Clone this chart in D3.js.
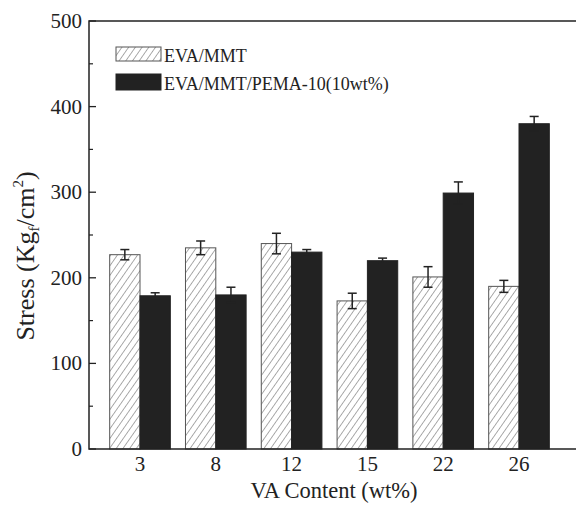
<!DOCTYPE html>
<html>

<head>
    <title>Stress vs VA content</title>
    <script src="https://cdn.jsdelivr.net/npm/d3@7"></script>
    <style>
        body { margin: 0; background: #fff; }
        text { font-family: 'Liberation Serif', 'Times New Roman', serif; fill: #222; }
    </style>
</head>

<body>
    <svg width="576" height="508" id="mainsvg"></svg>
    <script>
        // data
        const categories = ['3', '8', '12', '15', '22', '26'];
        const seriesNames = ['EVA/MMT', 'EVA/MMT/PEMA-10(10wt%)'];
        const evaMmt = [227, 235, 240, 173, 201, 190];
        const evaMmtErr = [6, 8, 12, 9, 12, 7];
        const evaPema = [179, 180, 230, 220, 299, 380];
        const evaPemaErr = [3.5, 9, 3, 3, 13, 8.5];
        const yTicks = [0, 100, 200, 300, 400, 500];
        const yMinor = [50, 150, 250, 350, 450];

        const svg = d3.select('svg');
        const plotLeft = 89, plotTop = 21, plotBottom = 449, plotRight = 600;
        const ink = '#222';

        const x = d3.scaleBand().domain(categories)
            .range([102.1, 556.9]).paddingInner(0.2).paddingOuter(0.1);
        const xs = d3.scaleBand().domain([0, 1]).range([0, x.bandwidth()]);
        const y = d3.scaleLinear().domain([0, 500]).range([plotBottom, plotTop]);

        const defs = svg.append('defs');
        const pat = defs.append('pattern').attr('id', 'hatch')
            .attr('patternUnits', 'userSpaceOnUse').attr('width', 5.5).attr('height', 5.5)
            .attr('patternTransform', 'rotate(35)');
        pat.append('rect').attr('width', 5.5).attr('height', 5.5).attr('fill', '#fff');
        pat.append('line').attr('x1', 0).attr('y1', 0).attr('x2', 0).attr('y2', 5.5)
            .attr('stroke', '#444').attr('stroke-width', 0.9);

        const rows = categories.map((c, i) => [
            { c, s: 0, v: evaMmt[i], e: evaMmtErr[i] },
            { c, s: 1, v: evaPema[i], e: evaPemaErr[i] }
        ]).flat();

        const g = svg.append('g');
        g.selectAll('rect.bar').data(rows).join('rect').attr('class', 'bar')
            .attr('x', d => x(d.c) + xs(d.s))
            .attr('y', d => y(d.v))
            .attr('width', xs.bandwidth())
            .attr('height', d => y(0) - y(d.v))
            .attr('fill', d => d.s === 0 ? 'url(#hatch)' : ink)
            .attr('stroke', d => d.s === 0 ? '#555' : ink)
            .attr('stroke-width', 1);

        // error bars
        const eb = g.selectAll('g.err').data(rows).join('g').attr('class', 'err')
            .attr('transform', d => `translate(${x(d.c) + xs(d.s) + xs.bandwidth() / 2},0)`)
            .attr('stroke', ink).attr('stroke-width', 1.5);
        eb.append('line').attr('x1', 0).attr('x2', 0)
            .attr('y1', d => y(d.v + d.e)).attr('y2', d => y(d.v - d.e));
        eb.append('line').attr('x1', -4.5).attr('x2', 4.5)
            .attr('y1', d => y(d.v + d.e)).attr('y2', d => y(d.v + d.e));
        eb.append('line').attr('x1', -4.5).attr('x2', 4.5)
            .attr('y1', d => y(d.v - d.e)).attr('y2', d => y(d.v - d.e));

        // frame
        svg.append('path')
            .attr('d', `M${plotRight},${plotTop}H${plotLeft}V${plotBottom}H${plotRight}`)
            .attr('fill', 'none').attr('stroke', ink).attr('stroke-width', 1.5);

        // y ticks (inward)
        svg.selectAll('line.ymaj').data(yTicks).join('line').attr('class', 'ymaj')
            .attr('x1', plotLeft).attr('x2', plotLeft + 7)
            .attr('y1', d => y(d)).attr('y2', d => y(d))
            .attr('stroke', ink).attr('stroke-width', 1.3);
        svg.selectAll('line.ymin').data(yMinor).join('line').attr('class', 'ymin')
            .attr('x1', plotLeft).attr('x2', plotLeft + 4)
            .attr('y1', d => y(d)).attr('y2', d => y(d))
            .attr('stroke', ink).attr('stroke-width', 1.2);
        svg.selectAll('text.ylab').data(yTicks).join('text').attr('class', 'ylab')
            .attr('x', 82).attr('y', d => y(d) + 7)
            .attr('text-anchor', 'end').attr('font-size', 21)
            .text(d => d);

        svg.selectAll('text.xlab').data(categories).join('text').attr('class', 'xlab')
            .attr('x', d => x(d) + x.bandwidth() / 2).attr('y', 471)
            .attr('text-anchor', 'middle').attr('font-size', 21)
            .text(d => d);

        svg.append('text').attr('x', 334).attr('y', 498)
            .attr('text-anchor', 'middle').attr('font-size', 22.5)
            .text('VA Content (wt%)');

        const yt = svg.append('text')
            .attr('transform', 'translate(34,256) rotate(-90)')
            .attr('text-anchor', 'middle').attr('font-size', 26);
        yt.append('tspan').text('Stress (Kg');
        yt.append('tspan').attr('font-size', 15).attr('dy', 5).text('f');
        yt.append('tspan').attr('dy', -5).text('/cm');
        yt.append('tspan').attr('font-size', 15).attr('dy', -11).text('2');
        yt.append('tspan').attr('dy', 11).text(')');

        // legend
        const lg = svg.append('g');
        const legY = [47, 74];
        seriesNames.forEach((name, i) => {
            lg.append('rect').attr('x', 116).attr('y', legY[i])
                .attr('width', 45).attr('height', i === 0 ? 14 : 16)
                .attr('fill', i === 0 ? 'url(#hatch)' : ink)
                .attr('stroke', i === 0 ? '#555' : ink);
            lg.append('text').attr('x', 164).attr('y', legY[i] + (i === 0 ? 15 : 16))
                .attr('font-size', 18).text(name);
        });
    </script>
</body>

</html>
